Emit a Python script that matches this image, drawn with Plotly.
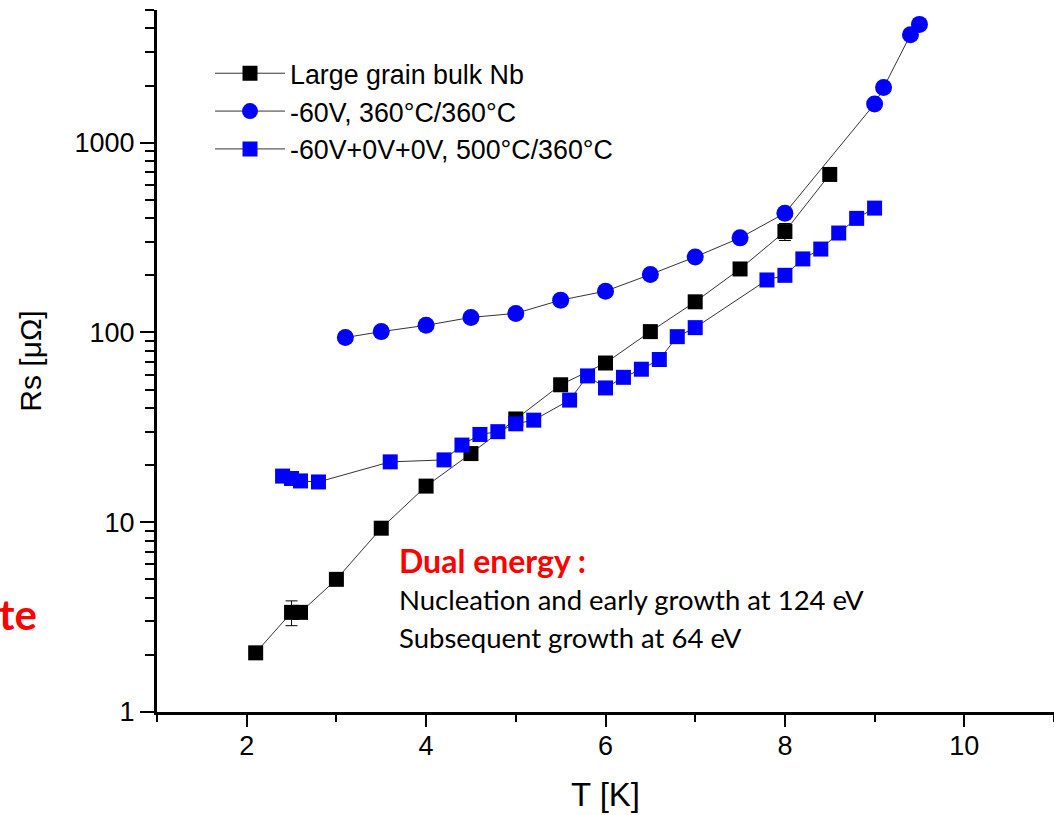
import plotly.graph_objects as go

# ---- data ----
nb_T = [2.1, 2.5, 2.6, 3.0, 3.5, 4.0, 4.5, 5.0, 5.5, 6.0, 6.5, 7.0, 7.5, 8.0, 8.5]
nb_Rs = [2.05, 3.35, 3.35, 5.0, 9.3, 15.5, 23, 35, 53, 69, 101, 145, 216, 340, 680]
nb_err = [0.15, 0.5, 0, 0, 0, 0, 0, 0, 0, 0, 0, 0, 0, 35, 0]

c1_T = [3.1, 3.5, 4.0, 4.5, 5.0, 5.5, 6.0, 6.5, 7.0, 7.5, 8.0, 9.0, 9.1, 9.4, 9.5]
c1_Rs = [94, 101, 109, 120, 126, 148, 165, 202, 250, 315, 425, 1600, 1950, 3700, 4200]

s2_T = [2.4, 2.5, 2.6, 2.8, 3.6, 4.2, 4.4, 4.6, 4.8, 5.0, 5.2, 5.6, 5.8, 6.0, 6.2,
        6.4, 6.6, 6.8, 7.0, 7.8, 8.0, 8.2, 8.4, 8.6, 8.8, 9.0]
s2_Rs = [17.5, 17, 16.5, 16.3, 20.8, 21.3, 25.5, 29, 30, 33, 34.5, 44, 59, 51, 58,
         64, 72, 95, 106, 189, 200, 244, 275, 334, 399, 452]

names = ["Large grain bulk Nb", "-60V, 360°C/360°C", "-60V+0V+0V, 500°C/360°C"]
x_ticks = [2, 4, 6, 8, 10]
y_ticks = [1, 10, 100, 1000]
y_minor = [m * d for d in (1, 10, 100, 1000) for m in range(2, 10)]

FONT = "Arial, Liberation Sans, sans-serif"
LINE = "#333333"
BLUE = "#0000ff"

fig = go.Figure()
fig.add_trace(go.Scatter(
    x=nb_T, y=nb_Rs, name=names[0], mode="lines+markers",
    line=dict(color=LINE, width=1),
    marker=dict(symbol="square", size=15, color="#000000"),
    error_y=dict(type="data", array=nb_err, visible=True, color="#000000",
                 thickness=1, width=6),
))
fig.add_trace(go.Scatter(
    x=c1_T, y=c1_Rs, name=names[1], mode="lines+markers",
    line=dict(color=LINE, width=1),
    marker=dict(symbol="circle", size=17, color=BLUE),
))
fig.add_trace(go.Scatter(
    x=s2_T, y=s2_Rs, name=names[2], mode="lines+markers",
    line=dict(color=LINE, width=1),
    marker=dict(symbol="square", size=15, color=BLUE),
))

fig.update_layout(
    width=1054, height=815,
    margin=dict(l=157, r=0, t=10, b=103),
    paper_bgcolor="white", plot_bgcolor="white",
    font=dict(family=FONT, size=27, color="#000000"),
    showlegend=True,
    legend=dict(x=(210 - 157) / 897, y=0.944, xanchor="left", yanchor="top",
                bgcolor="rgba(0,0,0,0)", itemwidth=70,
                font=dict(family=FONT, size=26.8)),
    xaxis=dict(
        range=[1, 11], tickmode="array", tickvals=x_ticks,
        ticks="outside", ticklen=12, tickwidth=2, tickcolor="#000",
        showline=True, linewidth=2.5, linecolor="#000", showgrid=False, zeroline=False,
        minor=dict(dtick=1, tick0=1, ticks="outside", ticklen=7, tickwidth=2, tickcolor="#000"),
        title=dict(text="T [K]", standoff=23, font=dict(size=33)),
        tickfont=dict(size=27), ticklabelstandoff=-4,
    ),
    yaxis=dict(
        type="log", range=[0, 3.699], tickmode="array", tickvals=y_ticks,
        ticktext=[str(v) for v in y_ticks],
        ticks="outside", ticklen=14, tickwidth=2, tickcolor="#000",
        showline=True, linewidth=3, linecolor="#000", showgrid=False, zeroline=False,
        minor=dict(tickmode="array", tickvals=y_minor, ticks="outside", ticklen=9,
                   tickwidth=2, tickcolor="#000"),
        title=dict(text="Rs [μΩ]", standoff=25, font=dict(size=30)),
        tickfont=dict(size=27),
    ),
)

TXT = "Lato, Open Sans, sans-serif"
XL = (397 - 157) / 897
fig.add_annotation(xref="paper", yref="paper", x=XL, y=(712 - 560) / 702,
                   xanchor="left", yanchor="middle", showarrow=False,
                   text="<b>Dual energy :</b>", font=dict(family=TXT, size=32, color="#ff0000"))
fig.add_annotation(xref="paper", yref="paper", x=XL, y=(712 - 599) / 702,
                   xanchor="left", yanchor="middle", showarrow=False,
                   text="Nucleation and early growth at 124 eV",
                   font=dict(family=TXT, size=27.5, color="#000000"))
fig.add_annotation(xref="paper", yref="paper", x=XL, y=(712 - 637) / 702,
                   xanchor="left", yanchor="middle", showarrow=False,
                   text="Subsequent growth at 64 eV",
                   font=dict(family=TXT, size=27.5, color="#000000"))
fig.add_annotation(xref="paper", yref="paper", x=(39 - 157) / 897, y=(712 - 614) / 702,
                   xanchor="right", yanchor="middle", showarrow=False,
                   text="<b>te</b>", font=dict(family=TXT, size=42, color="#ff0000"))

fig.write_html("out.html")
